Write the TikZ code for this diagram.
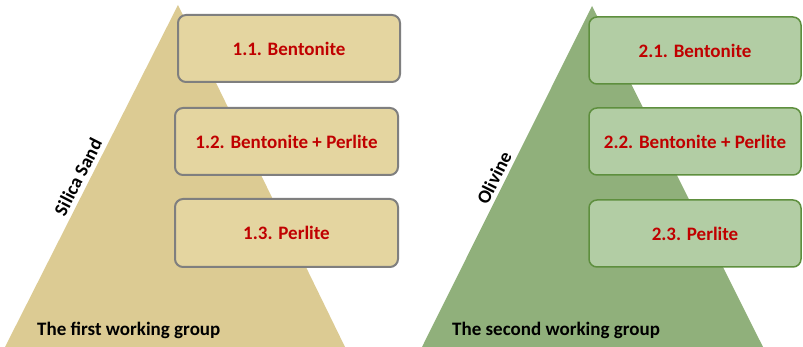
\documentclass[tikz,border=0pt]{standalone}
\usepackage{fontspec}
\setmainfont{Carlito}
\definecolor{sandtri}{HTML}{DCCB93}
\definecolor{sandbox}{HTML}{E4D5A0}
\definecolor{greentri}{HTML}{90B07B}
\definecolor{greenbox}{HTML}{B2CDA4}
\definecolor{greenline}{HTML}{5E8F3E}
\definecolor{boxline}{HTML}{7F7F7F}
\definecolor{labred}{HTML}{C00000}
\tikzset{
  every node/.style={font=\fontsize{19}{22}\selectfont\bfseries},
  sandbx/.style={draw=boxline, line width=2pt, fill=sandbox, rounded corners=8pt,
    inner sep=0pt, text=labred},
  greenbx/.style={draw=greenline, line width=1.5pt, fill=greenbox, rounded corners=8pt,
    inner sep=0pt, text=labred},
  side/.style={text=black, inner sep=0pt},
}
\begin{document}
\begin{tikzpicture}[x=1pt,y=-1pt]
\fill[white] (0,0) rectangle (803,347);
\useasboundingbox (0,0) rectangle (803,347);
% triangles
\fill[sandtri] (178,5) -- (5,347) -- (345,347) -- cycle;
\fill[greentri] (592,6) -- (422,347) -- (763,347) -- cycle;
% first group boxes
\node[sandbx, minimum width=222pt, minimum height=67pt] (b11) at (289,48.5) {1.1. Bentonite};
\node[sandbx, minimum width=223pt, minimum height=67pt] (b12) at (286.5,141.5) {1.2. Bentonite + Perlite};
\node[sandbx, minimum width=223pt, minimum height=68pt] (b13) at (286.5,233) {1.3. Perlite};
% second group boxes
\node[greenbx, minimum width=212pt, minimum height=67pt] (b21) at (695,50.5) {2.1. Bentonite};
\node[greenbx, minimum width=212pt, minimum height=67pt] (b22) at (695,141.5) {2.2. Bentonite + Perlite};
\node[greenbx, minimum width=212pt, minimum height=67pt] (b23) at (695,233.5) {2.3. Perlite};
% side labels
\node[side, rotate=63] (silica) at (78,177) {Silica Sand};
\node[side, rotate=63.5] (olivine) at (494,178) {Olivine};
% group names
\node[side, anchor=base west] (g1) at (37,335) {The first working group};
\node[side, anchor=base west] (g2) at (452,335) {The second working group};
\end{tikzpicture}
\end{document}
